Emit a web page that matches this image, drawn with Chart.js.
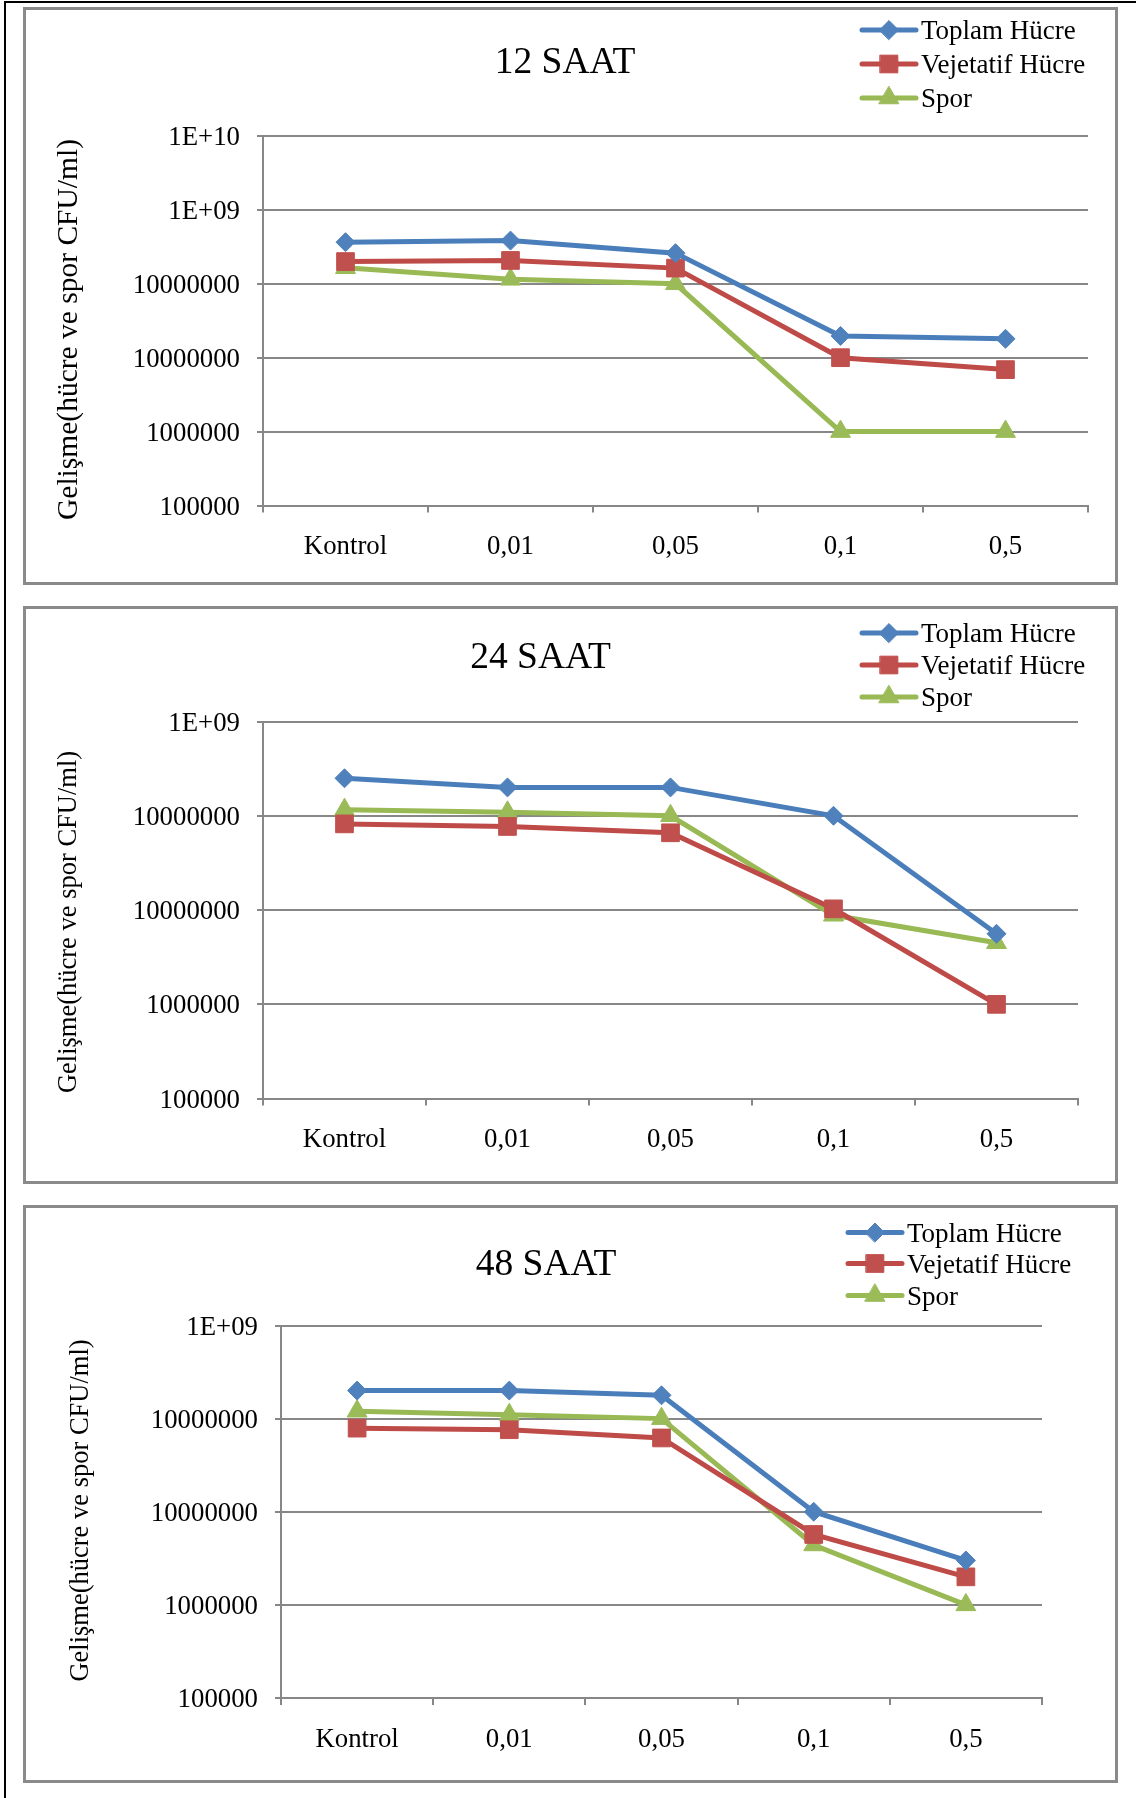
<!DOCTYPE html>
<html>
<head>
<meta charset="utf-8">
<script src="https://cdn.jsdelivr.net/npm/chart.js@4/dist/chart.umd.min.js"></script>
<style>
  html, body { margin: 0; padding: 0; background: #fff; }
  body { width: 1136px; height: 1798px; position: relative; overflow: hidden; }
  #frame { position: absolute; left: 4px; top: 1px; right: 0; bottom: 0; border-top: 2px solid #000; border-left: 2px solid #000; }
  .box { position: absolute; left: 23px; width: 1095px; height: 578px; box-sizing: border-box; border: 3px solid #8a8a8a; background: #fff; }
  .box canvas { position: absolute; left: 0; top: 0; }
</style>
</head>
<body>
<div id="frame"></div>
<div class="box" style="top:7px"><canvas id="c12" width="1089" height="572"></canvas></div>
<div class="box" style="top:606px"><canvas id="c24" width="1089" height="572"></canvas></div>
<div class="box" style="top:1205px"><canvas id="c48" width="1089" height="572"></canvas></div>
<script>
// ---------------- data ----------------
const categories = ["Kontrol", "0,01", "0,05", "0,1", "0,5"];
const seriesNames = ["Toplam Hücre", "Vejetatif Hücre", "Spor"];
const yAxisTitle = "Gelişme(hücre ve spor CFU/ml)";

const titles = ["12 SAAT", "24 SAAT", "48 SAAT"];

// 12 SAAT
const toplam12 = [3.66e8, 3.84e8, 2.6e8, 1.97e7, 1.8e7];
const vejetatif12 = [2.0e8, 2.07e8, 1.63e8, 1.0e7, 6.9e6];
const spor12 = [1.65e8, 1.15e8, 1.0e8, 1.0e6, 1.0e6];

// 24 SAAT
const toplam24 = [2.5e8, 2.0e8, 2.0e8, 1.0e8, 5.6e6];
const vejetatif24 = [8.2e7, 7.7e7, 6.6e7, 1.03e7, 1.0e6];
const spor24 = [1.16e8, 1.09e8, 1.0e8, 8.8e6, 4.5e6];

// 48 SAAT
const toplam48 = [2.0e8, 2.0e8, 1.78e8, 1.0e7, 3.0e6];
const vejetatif48 = [7.9e7, 7.6e7, 6.2e7, 5.7e6, 2.0e6];
const spor48 = [1.2e8, 1.1e8, 1.0e8, 4.4e6, 1.0e6];

// y tick values and the labels printed on the axis
const tickValues12 = [1e5, 1e6, 1e7, 1e8, 1e9, 1e10];
const tickLabels12 = ["100000", "1000000", "10000000", "10000000", "1E+09", "1E+10"];
const tickValues24 = [1e5, 1e6, 1e7, 1e8, 1e9];
const tickLabels24 = ["100000", "1000000", "10000000", "10000000", "1E+09"];
const tickValues48 = [1e5, 1e6, 1e7, 1e8, 1e9];
const tickLabels48 = ["100000", "1000000", "10000000", "10000000", "1E+09"];

// ---------------- styling ----------------
const FONT = '"Liberation Serif", "Times New Roman", serif';
const GRID = '#878787';
const seriesStyle = [
  { line: '#4A7EBB', fill: '#4F81BD', shape: 'rectRot', r: 9.5 },
  { line: '#BE4B48', fill: '#C0504D', shape: 'rect', r: 12.5 },
  { line: '#98B954', fill: '#9BBB59', shape: 'triangle', r: 11.5 }
];

const overlay = {
  id: 'overlay',
  afterDraw(chart, args, o) {
    const ctx = chart.ctx;
    ctx.save();
    // chart title
    ctx.fillStyle = '#000';
    ctx.font = o.titleSize + 'px ' + FONT;
    ctx.textAlign = 'center';
    ctx.textBaseline = 'alphabetic';
    ctx.fillText(o.title, o.titleX, o.titleY);
    // vertical axis title
    ctx.save();
    ctx.translate(o.ytX, o.ytY);
    ctx.rotate(-Math.PI / 2);
    ctx.font = o.ytSize + 'px ' + FONT;
    ctx.textAlign = 'center';
    ctx.textBaseline = 'middle';
    ctx.fillText(o.ytText, 0, 0);
    ctx.restore();
    // legend
    chart.data.datasets.forEach((ds, i) => {
      const y = o.legendY[i];
      ctx.strokeStyle = ds.borderColor;
      ctx.lineWidth = ds.borderWidth;
      ctx.lineCap = 'round';
      ctx.beginPath();
      ctx.moveTo(o.legendX, y);
      ctx.lineTo(o.legendX + o.legendLen, y);
      ctx.stroke();
      ctx.fillStyle = ds.pointBackgroundColor;
      ctx.strokeStyle = ds.pointBorderColor;
      ctx.lineWidth = ds.pointBorderWidth;
      Chart.helpers.drawPoint(ctx, { pointStyle: ds.pointStyle, radius: ds.pointRadius, borderWidth: ds.pointBorderWidth, rotation: 0 }, o.legendX + o.legendLen / 2, y);
      ctx.fillStyle = '#000';
      ctx.textAlign = 'left';
      ctx.textBaseline = 'alphabetic';
      ctx.font = o.legendSize + 'px ' + FONT;
      ctx.fillText(ds.label, o.legendX + o.legendLen + 5, y + 9);
    });
    ctx.restore();
  }
};

function makeChart(id, title, series, tickValues, tickLabels, lay) {
  const datasets = series.map((vals, i) => ({
    label: seriesNames[i],
    data: vals,
    borderColor: seriesStyle[i].line,
    backgroundColor: seriesStyle[i].fill,
    borderWidth: 5,
    pointStyle: seriesStyle[i].shape,
    pointRadius: seriesStyle[i].r,
    pointBackgroundColor: seriesStyle[i].fill,
    pointBorderColor: seriesStyle[i].fill,
    pointBorderWidth: 1,
    tension: 0,
    fill: false
  }));
  return new Chart(document.getElementById(id), {
    type: 'line',
    data: { labels: categories, datasets },
    options: {
      responsive: false,
      animation: false,
      devicePixelRatio: 1,
      layout: { padding: { top: lay.top, right: lay.right, bottom: lay.bottom, left: 0 } },
      plugins: {
        legend: { display: false },
        title: { display: false },
        tooltip: { enabled: false },
        overlay: {
          title: title, titleSize: 37.5, titleX: lay.titleX, titleY: lay.titleY,
          legendX: lay.legendX, legendLen: 54, legendY: lay.legendY, legendSize: 27,
          ytText: yAxisTitle, ytSize: lay.ytSize, ytX: lay.ytX, ytY: lay.ytY
        }
      },
      scales: {
        x: {
          type: 'category',
          offset: true,
          grid: { offset: true, drawOnChartArea: false, color: GRID, lineWidth: 2, tickLength: 7 },
          border: { color: GRID, width: 2 },
          ticks: { font: { family: FONT, size: 26.8 }, color: '#000', padding: 18.5, maxRotation: 0, autoSkip: false },
          afterFit: (a) => { a.height = 62; }
        },
        y: {
          type: 'logarithmic',
          min: tickValues[0],
          max: tickValues[tickValues.length - 1],
          grid: { color: GRID, lineWidth: 2, tickLength: 6 },
          border: { color: GRID, width: 2 },
          ticks: {
            font: { family: FONT, size: 26.8 }, color: '#000', padding: 17, labelOffset: 2,
            callback: (v) => { const k = tickValues.indexOf(v); return k >= 0 ? tickLabels[k] : ''; }
          },
          afterBuildTicks: (a) => { a.ticks = tickValues.map(v => ({ value: v })); },
          afterFit: (a) => { a.width = lay.left; }
        }
      }
    },
    plugins: [overlay]
  });
}

makeChart('c12', titles[0], [toplam12, vejetatif12, spor12], tickValues12, tickLabels12,
  { top: 126, right: 27, bottom: 14.5, left: 237, ytSize: 29.5, ytX: 43.5, ytY: 319.5,
    titleX: 539, titleY: 63, legendX: 836, legendY: [20, 54, 88] });
makeChart('c24', titles[1], [toplam24, vejetatif24, spor24], tickValues24, tickLabels24,
  { top: 112.5, right: 37, bottom: 20.4, left: 237, ytSize: 26.5, ytX: 43, ytY: 313,
    titleX: 514.5, titleY: 58.5, legendX: 836, legendY: [24, 56, 88] });
makeChart('c48', titles[2], [toplam48, vejetatif48, spor48], tickValues48, tickLabels48,
  { top: 117.5, right: 73, bottom: 20, left: 255, ytSize: 26.5, ytX: 55.5, ytY: 302.5,
    titleX: 520, titleY: 67, legendX: 822, legendY: [24.5, 55.5, 87.5] });
</script>
</body>
</html>
